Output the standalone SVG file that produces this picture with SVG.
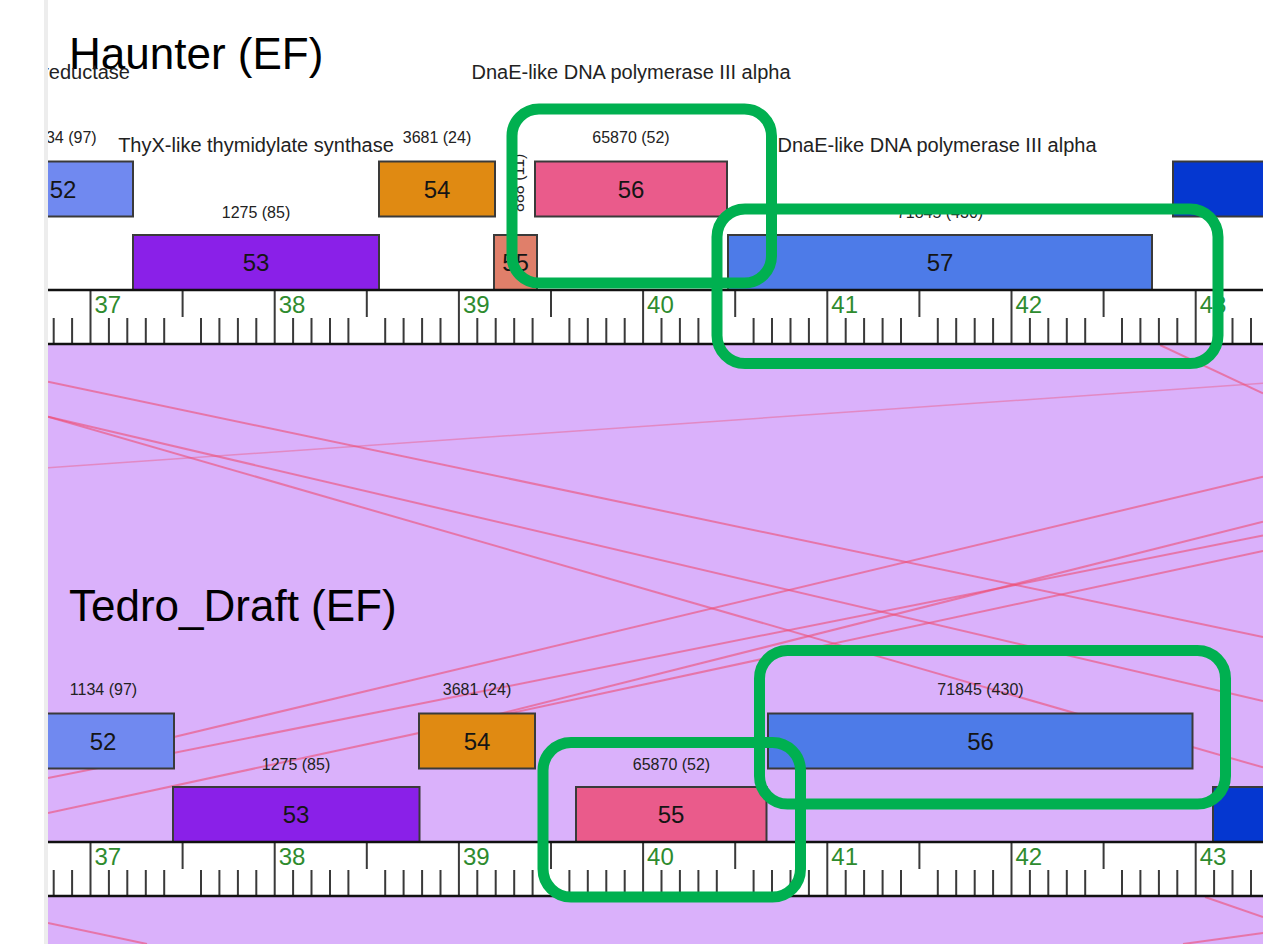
<svg xmlns="http://www.w3.org/2000/svg" xmlns:xlink="http://www.w3.org/1999/xlink" width="1263" height="944" viewBox="0 0 1263 944">
<defs>
<style>
.title{font-family:"Liberation Sans",Arial,sans-serif;font-size:44px;fill:#000}
.func{font-family:"Liberation Sans",Arial,sans-serif;font-size:20px;fill:#222}
.num{font-family:"Liberation Sans",Arial,sans-serif;font-size:16px;fill:#222;text-anchor:middle}
.lbl{font-family:"Liberation Sans",Arial,sans-serif;font-size:24px;fill:#151515;text-anchor:middle}
.kb{font-family:"Liberation Sans",Arial,sans-serif;font-size:24px;fill:#2E8B2E}
.box{stroke:#3a3a3a;stroke-width:2}
.tick{stroke:#3a3a3a;stroke-width:2;fill:none}
.rline{stroke:#111;stroke-width:2.5}
.link{stroke:#EE4D73;stroke-opacity:0.6;stroke-width:2;fill:none}
.faint{stroke:#EE4D73;stroke-opacity:0.4;stroke-width:1.5;fill:none}
.hl{fill:none;stroke:#00B050;stroke-width:11}
</style>
<clipPath id="view"><rect x="48" y="0" width="1215" height="944"/></clipPath>
<clipPath id="purple"><rect x="48" y="345" width="1215" height="599"/></clipPath>
<g id="ruler">
<rect x="40" y="290" width="1230" height="54" fill="#fff"/>
<path class="tick" d="M53.7,318V344M72.1,318V344M108.9,318V344M127.3,318V344M145.8,318V344M164.2,318V344M201,318V344M219.4,318V344M237.9,318V344M256.3,318V344M293.1,318V344M311.5,318V344M330,318V344M348.4,318V344M385.2,318V344M403.6,318V344M422.1,318V344M440.5,318V344M477.3,318V344M495.7,318V344M514.2,318V344M532.6,318V344M569.4,318V344M587.8,318V344M606.3,318V344M624.7,318V344M661.5,318V344M679.9,318V344M698.4,318V344M716.8,318V344M753.6,318V344M772,318V344M790.5,318V344M808.9,318V344M845.7,318V344M864.1,318V344M882.6,318V344M901,318V344M937.8,318V344M956.2,318V344M974.7,318V344M993.1,318V344M1029.9,318V344M1048.3,318V344M1066.8,318V344M1085.2,318V344M1122,318V344M1140.4,318V344M1158.9,318V344M1177.3,318V344M1214.1,318V344M1232.5,318V344M1251,318V344"/>
<path class="tick" d="M182.6,290V317M366.8,290V317M551,290V317M735.2,290V317M919.4,290V317M1103.6,290V317"/>
<path class="tick" d="M90.5,290V344M274.7,290V344M458.9,290V344M643.1,290V344M827.3,290V344M1011.5,290V344M1195.7,290V344"/>
<path class="rline" d="M40,290H1270M40,344H1270"/>
<text class="kb" x="94.5" y="313">37</text>
<text class="kb" x="278.7" y="313">38</text>
<text class="kb" x="462.9" y="313">39</text>
<text class="kb" x="647.1" y="313">40</text>
<text class="kb" x="831.3" y="313">41</text>
<text class="kb" x="1015.5" y="313">42</text>
<text class="kb" x="1199.7" y="313">43</text>
</g>
</defs>
<rect x="0" y="0" width="1263" height="944" fill="#fff"/>
<rect x="44" y="0" width="4" height="944" fill="#EDEDED"/>
<g clip-path="url(#view)">
<rect x="48" y="345" width="1215" height="599" fill="#DAB1FB"/>
<g id="connectors" clip-path="url(#purple)">
<path class="faint" d="M48,467.7L1263,383.3"/>
<path class="link" d="M1160,345L1263,393.3"/>
<path class="link" d="M48,381.7L1263,637"/>
<path class="link" d="M48,416.7L1263,701"/>
<path class="link" d="M48,416.7L1263,767.4"/>
<path class="link" d="M174,737L1263,476.7"/>
<path class="link" d="M422.7,733.3L1263,521.7"/>
<path class="link" d="M48,813L1263,551"/>
<path class="link" d="M48,778L1263,535.5"/>
<path class="link" d="M1205,897L1263,917"/>
<path class="link" d="M1183,944L1263,933"/>
<path class="link" d="M48,923L147,944"/>
</g>
<g id="haunter">
<text class="title" x="69" y="68.5">Haunter (EF)</text>
<g id="h-gene-52">
<rect class="box" x="-7" y="161.5" width="140" height="55" fill="#7089F0"/>
<text class="lbl" x="63" y="197.5">52</text>
<text class="num" x="63" y="143">1134 (97)</text>
<text class="func" x="130" y="79" text-anchor="end">reductase</text>
</g>
<g id="h-gene-53">
<rect class="box" x="133" y="235" width="246" height="55" fill="#8A20E8"/>
<text class="lbl" x="256" y="271">53</text>
<text class="num" x="256" y="217.5">1275 (85)</text>
<text class="func" x="256" y="152" text-anchor="middle">ThyX-like thymidylate synthase</text>
</g>
<g id="h-gene-54">
<rect class="box" x="379" y="161.5" width="116" height="55" fill="#E08A12"/>
<text class="lbl" x="437" y="197.5">54</text>
<text class="num" x="437" y="143">3681 (24)</text>
</g>
<g id="h-gene-55">
<rect class="box" x="494" y="235" width="43" height="55" fill="#E07F6A"/>
<text class="lbl" x="515.5" y="271">55</text>
<text class="num" transform="translate(524,212) rotate(-90)" style="text-anchor:start">888 (11)</text>
</g>
<g id="h-gene-56">
<rect class="box" x="535" y="161.5" width="192" height="55" fill="#EA5B8B"/>
<text class="lbl" x="631" y="197.5">56</text>
<text class="num" x="631" y="143">65870 (52)</text>
<text class="func" x="631" y="79" text-anchor="middle">DnaE-like DNA polymerase III alpha</text>
</g>
<g id="h-gene-57">
<rect class="box" x="728" y="235" width="424" height="55" fill="#4D7BE8"/>
<text class="lbl" x="940" y="271">57</text>
<text class="num" x="940" y="217.5">71845 (430)</text>
<text class="func" x="937" y="152" text-anchor="middle">DnaE-like DNA polymerase III alpha</text>
</g>
<g id="h-gene-58">
<rect class="box" x="1173" y="161.5" width="140" height="55" fill="#0537D0"/>
</g>
<use xlink:href="#ruler" href="#ruler"/>
</g>
<g id="tedro">
<text class="title" x="69" y="620.5">Tedro_Draft (EF)</text>
<g id="t-gene-52">
<rect class="box" x="33" y="713.5" width="141" height="55" fill="#7089F0"/>
<text class="lbl" x="103" y="749.5">52</text>
<text class="num" x="103.5" y="695">1134 (97)</text>
</g>
<g id="t-gene-53">
<rect class="box" x="173" y="787" width="246.5" height="55" fill="#8A20E8"/>
<text class="lbl" x="296" y="823">53</text>
<text class="num" x="296" y="769.5">1275 (85)</text>
</g>
<g id="t-gene-54">
<rect class="box" x="419" y="713.5" width="116" height="55" fill="#E08A12"/>
<text class="lbl" x="477" y="749.5">54</text>
<text class="num" x="477" y="695">3681 (24)</text>
</g>
<g id="t-gene-55">
<rect class="box" x="576" y="787" width="190.5" height="55" fill="#EA5B8B"/>
<text class="lbl" x="671" y="823">55</text>
<text class="num" x="671.5" y="769.5">65870 (52)</text>
</g>
<g id="t-gene-56">
<rect class="box" x="768" y="713.5" width="424.5" height="55" fill="#4D7BE8"/>
<text class="lbl" x="980.5" y="749.5">56</text>
<text class="num" x="980.5" y="695">71845 (430)</text>
</g>
<g id="t-gene-57">
<rect class="box" x="1213" y="787" width="140" height="55" fill="#0537D0"/>
</g>
<use xlink:href="#ruler" href="#ruler" transform="translate(0,552)"/>
</g>
<g id="highlights">
<rect class="hl" x="512" y="109" width="259.5" height="174" rx="27"/>
<rect class="hl" x="717" y="209" width="501" height="154.5" rx="28"/>
<rect class="hl" x="759.5" y="650.5" width="466" height="153.5" rx="28"/>
<rect class="hl" x="543" y="742.5" width="257.5" height="154.5" rx="28"/>
</g>
</g>
</svg>
